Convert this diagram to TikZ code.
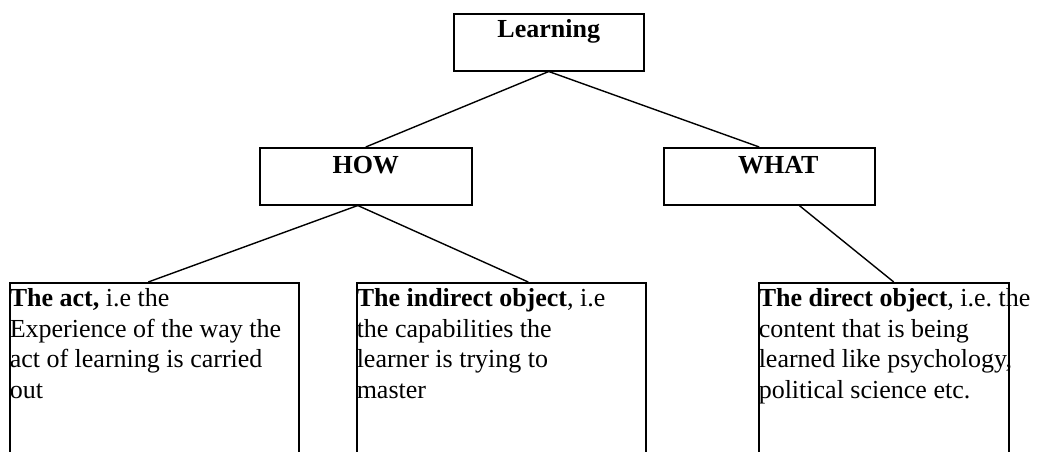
\documentclass[tikz,border=0pt]{standalone}
\usepackage{fontspec}
\setmainfont{Liberation Serif}
\newcommand{\boxfont}{\fontsize{26}{30.6}\selectfont\frenchspacing}

\begin{document}
\begin{tikzpicture}[x=1pt,y=-1pt]
\tikzstyle{head} = [draw, line width=1.5pt, inner sep=0pt, anchor=north west, font=\boxfont\bfseries]
\tikzstyle{leaf} = [draw, line width=1.5pt, inner sep=0pt, anchor=north west, font=\boxfont]
\tikzstyle{edge} = [line width=1.4pt]
\useasboundingbox (0,0) rectangle (1041,451);
\clip (0,0) rectangle (1041,451);

\node[head](learning) at (453,13) {\parbox[t][57pt][t]{190pt}{\centering\rule{0pt}{24pt}Learning}};
\node[head](how) at (259,147) {\parbox[t][57pt][t]{212pt}{\centering\rule{0pt}{26pt}HOW}};
\node[head](what) at (663,147) {\parbox[t][57pt][t]{211pt}{\centering\rule{0pt}{26pt}\hspace*{18pt}WHAT}};

\node[leaf](act) at (9,282) {\parbox[t][200pt][t]{289pt}{\raggedright
    \mbox{\rule{0pt}{24pt}\textbf{The act,} i.e the}\\
    \mbox{Experience of the way the}\\ \mbox{act of learning is carried}\\ \mbox{out}}};
\node[leaf](indirect) at (356,282) {\parbox[t][200pt][t]{289pt}{\raggedright
    \mbox{\rule{0pt}{24pt}\textbf{The indirect object}, i.e}\\
    \mbox{the capabilities the}\\ \mbox{learner is trying to}\\ \mbox{master}}};
\node[leaf](direct) at (758,282) {\parbox[t][200pt][t]{250pt}{\raggedright
    \mbox{\rule{0pt}{24pt}\textbf{The direct object}, i.e. the}\\
    \mbox{content that is being}\\ \mbox{learned like psychology,}\\ \mbox{political science etc.}}};

\draw[edge] (learning.south) -- (how.north);
\draw[edge] (learning.south) -- ([xshift=-10pt]what.north);
\draw[edge] ([xshift=-8pt]how.south) -- ([xshift=-6pt]act.north);
\draw[edge] ([xshift=-8pt]how.south) -- ([xshift=27pt]indirect.north);
\draw[edge] ([xshift=30pt]what.south) -- ([xshift=10pt]direct.north);
\end{tikzpicture}
\end{document}
